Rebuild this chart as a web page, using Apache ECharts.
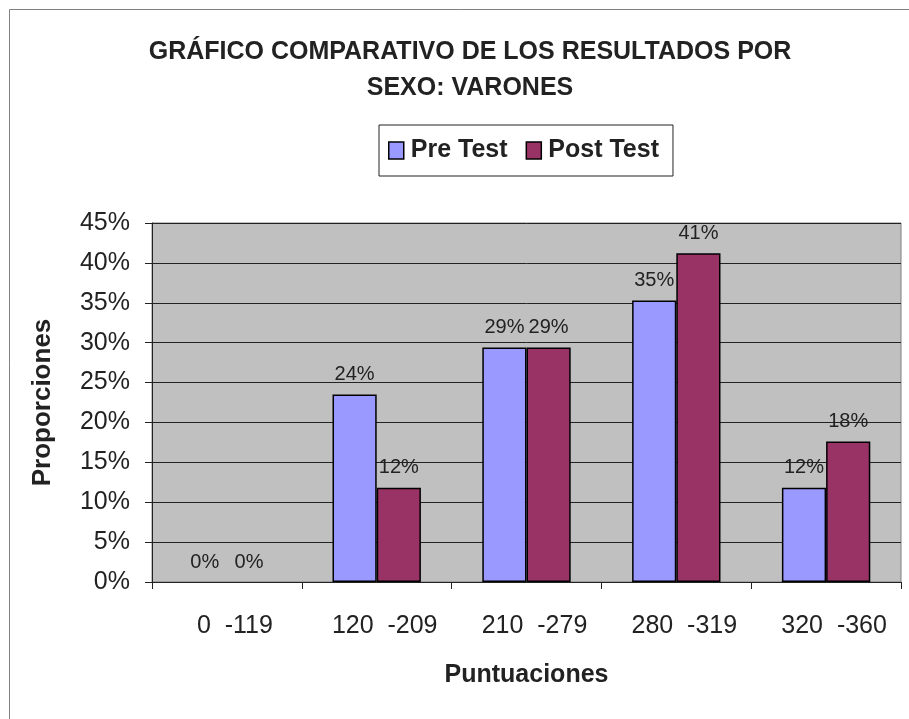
<!DOCTYPE html>
<html>
<head>
<meta charset="utf-8" />
<title>Gráfico comparativo</title>
<script src="https://cdn.jsdelivr.net/npm/echarts@6/dist/echarts.min.js"></script>
<style>
  html, body { margin: 0; padding: 0; background: #fff; }
  #chart { width: 909px; height: 719px; }
</style>
</head>
<body>
<div id="chart"></div>
<script>
var categories = ['0  -119', '120  -209', '210  -279', '280  -319', '320  -360'];
var preTest = [0, 23.5, 29.4, 35.3, 11.8];
var postTest = [0, 11.8, 29.4, 41.2, 17.6];
var yTicks = [0, 5, 10, 15, 20, 25, 30, 35, 40, 45];

var chart = echarts.init(document.getElementById('chart'));

// no border on empty bars, like the original
function barData(values) {
  return values.map(function (v) {
    return v === 0 ? { value: v, itemStyle: { borderWidth: 0 } } : v;
  });
}

var barLabel = {
  show: true,
  position: 'top',
  distance: 10,
  fontFamily: 'Liberation Sans',
  fontSize: 20,
  color: '#222',
  formatter: function (p) { return Math.round(p.value) + '%'; }
};

var option = {
  backgroundColor: '#fff',
  animation: false,
  graphic: [{
    type: 'rect',
    left: 7, top: 7,
    shape: { width: 910, height: 720 },
    style: { fill: 'none', stroke: '#808080', lineWidth: 1 }
  }],
  title: {
    text: 'GRÁFICO COMPARATIVO DE LOS RESULTADOS POR\nSEXO: VARONES',
    left: 465,
    textAlign: 'center',
    top: 29,
    textStyle: {
      fontFamily: 'Liberation Sans',
      fontWeight: 'bold',
      fontSize: 25,
      lineHeight: 36,
      color: '#222'
    }
  },
  legend: {
    data: ['Pre Test', 'Post Test'],
    left: 379,
    top: 125,
    icon: 'rect',
    itemWidth: 15,
    itemHeight: 17,
    itemGap: 18,
    padding: [13, 14, 13, 9],
    borderColor: '#222',
    borderWidth: 1,
    itemStyle: { borderColor: '#000', borderWidth: 1.5 },
    textStyle: {
      fontFamily: 'Liberation Sans',
      fontWeight: 'bold',
      fontSize: 25,
      color: '#222',
      padding: [0, 0, 0, 2]
    }
  },
  grid: {
    left: 152,
    top: 223,
    right: 8,
    bottom: 137,
    show: true,
    backgroundColor: '#c0c0c0',
    borderColor: '#808080',
    borderWidth: 1
  },
  xAxis: {
    type: 'category',
    data: categories,
    name: 'Puntuaciones',
    nameLocation: 'middle',
    nameGap: 81,
    nameTextStyle: {
      fontFamily: 'Liberation Sans',
      fontWeight: 'bold',
      fontSize: 25,
      color: '#222'
    },
    axisLine: { lineStyle: { color: '#222', width: 1 } },
    axisTick: { show: true, length: 7, inside: false, lineStyle: { color: '#222' } },
    axisLabel: {
      margin: 32,
      padding: [0, 0, 0, 16],
      fontFamily: 'Liberation Sans',
      fontSize: 25,
      color: '#222'
    },
    splitLine: { show: false }
  },
  yAxis: {
    type: 'value',
    min: 0,
    max: 45,
    interval: 5,
    name: 'Proporciones',
    nameLocation: 'middle',
    nameGap: 96,
    nameTextStyle: {
      fontFamily: 'Liberation Sans',
      fontWeight: 'bold',
      fontSize: 26,
      color: '#222'
    },
    axisLine: { show: true, lineStyle: { color: '#222', width: 1 } },
    axisTick: { show: true, length: 7, lineStyle: { color: '#222' } },
    axisLabel: {
      margin: 22,
      fontFamily: 'Liberation Sans',
      fontSize: 25,
      color: '#222',
      formatter: function (v) { return yTicks.indexOf(v) >= 0 ? v + '%' : ''; }
    },
    splitLine: { show: true, lineStyle: { color: '#222', width: 1 } }
  },
  series: [{
    name: 'Pre Test',
    type: 'bar',
    data: barData(preTest),
    barGap: '0%',
    barCategoryGap: '41%',
    itemStyle: { color: '#9999ff', borderColor: '#000', borderWidth: 1.5 },
    label: barLabel
  }, {
    name: 'Post Test',
    type: 'bar',
    data: barData(postTest),
    itemStyle: { color: '#993366', borderColor: '#000', borderWidth: 1.5 },
    label: barLabel
  }]
};

chart.setOption(option);
</script>
</body>
</html>
